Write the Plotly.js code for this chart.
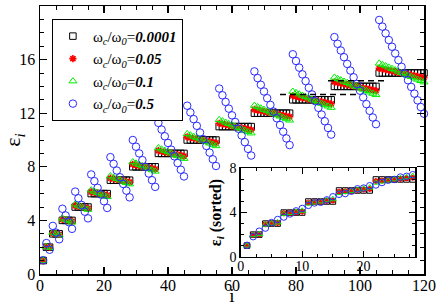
<!DOCTYPE html>
<html>
<head>
<meta charset="utf-8">
<script src="https://cdn.plot.ly/plotly-3.0.1.min.js"></script>
<style>html,body{margin:0;padding:0;background:#fff;}#plot{width:436px;height:306px;}</style>
</head>
<body>
<div id="plot"></div>
<script>
// state index i (1..121)
const stateIndex = Array.from({length: 121}, (_, k) => k + 1);

// omega_c/omega_0 = 0.0001
const eps0001 = [
  1,
  2, 2,
  3, 3, 3,
  4, 4, 4, 4,
  5, 5, 5, 5, 5,
  6, 6, 6, 6, 6, 6,
  7, 7, 7, 7, 7, 7, 7,
  8, 8, 8, 8, 8, 8, 8, 8,
  9, 9, 9, 9, 9, 9, 9, 9, 9,
  10, 10, 10, 10, 10, 10, 10, 10, 10, 10,
  11, 11, 11, 11, 11, 11, 11, 11, 11, 11, 11,
  12, 12, 12, 12, 12, 12, 12, 12, 12, 12, 12, 12,
  13, 13, 13, 13, 13, 13, 13, 13, 13, 13, 13, 13, 13,
  14, 14, 14, 14, 14, 14, 14, 14, 14, 14, 14, 14, 14, 14,
  15, 15, 15, 15, 15, 15, 15, 15, 15, 15, 15, 15, 15, 15, 15,
  16
];

// omega_c/omega_0 = 0.05
const eps005 = [
  1.00,
  2.03, 1.98,
  3.05, 3.00, 2.95,
  4.08, 4.03, 3.98, 3.93,
  5.10, 5.05, 5.00, 4.95, 4.90,
  6.13, 6.08, 6.03, 5.98, 5.93, 5.88,
  7.15, 7.10, 7.05, 7.00, 6.95, 6.90, 6.85,
  8.18, 8.13, 8.08, 8.03, 7.98, 7.93, 7.88, 7.83,
  9.20, 9.15, 9.10, 9.05, 9.00, 8.95, 8.90, 8.85, 8.80,
  10.23, 10.18, 10.13, 10.08, 10.03, 9.98, 9.93, 9.88, 9.83, 9.78,
  11.25, 11.20, 11.15, 11.10, 11.05, 11.00, 10.95, 10.90, 10.85, 10.80, 10.75,
  12.28, 12.23, 12.18, 12.13, 12.08, 12.03, 11.98, 11.93, 11.88, 11.83, 11.78, 11.73,
  13.30, 13.25, 13.20, 13.15, 13.10, 13.05, 13.00, 12.95, 12.90, 12.85, 12.80, 12.75, 12.70,
  14.33, 14.28, 14.23, 14.18, 14.13, 14.08, 14.03, 13.98, 13.93, 13.88, 13.83, 13.78, 13.73, 13.68,
  15.35, 15.30, 15.25, 15.20, 15.15, 15.10, 15.05, 15.00, 14.95, 14.90, 14.85, 14.80, 14.75, 14.70, 14.65,
  16.38
];

// omega_c/omega_0 = 0.1
const eps01 = [
  1.00,
  2.05, 1.95,
  3.10, 3.00, 2.90,
  4.16, 4.06, 3.96, 3.86,
  5.21, 5.11, 5.01, 4.91, 4.81,
  6.26, 6.16, 6.06, 5.96, 5.86, 5.76,
  7.31, 7.21, 7.11, 7.01, 6.91, 6.81, 6.71,
  8.36, 8.26, 8.16, 8.06, 7.96, 7.86, 7.76, 7.66,
  9.41, 9.31, 9.21, 9.11, 9.01, 8.91, 8.81, 8.71, 8.61,
  10.46, 10.36, 10.26, 10.16, 10.06, 9.96, 9.86, 9.76, 9.66, 9.56,
  11.51, 11.41, 11.31, 11.21, 11.11, 11.01, 10.91, 10.81, 10.71, 10.61, 10.51,
  12.57, 12.47, 12.37, 12.27, 12.17, 12.07, 11.97, 11.87, 11.77, 11.67, 11.57, 11.47,
  13.62, 13.52, 13.42, 13.32, 13.22, 13.12, 13.02, 12.92, 12.82, 12.72, 12.62, 12.52, 12.42,
  14.67, 14.57, 14.47, 14.37, 14.27, 14.17, 14.07, 13.97, 13.87, 13.77, 13.67, 13.57, 13.47, 13.37,
  15.72, 15.62, 15.52, 15.42, 15.32, 15.22, 15.12, 15.02, 14.92, 14.82, 14.72, 14.62, 14.52, 14.42, 14.32,
  16.77
];

// omega_c/omega_0 = 0.5
const eps05 = [
  1.03,
  2.31, 1.81,
  3.59, 3.09, 2.59,
  4.87, 4.37, 3.87, 3.37,
  6.15, 5.65, 5.15, 4.65, 4.15,
  7.43, 6.93, 6.43, 5.93, 5.43, 4.93,
  8.72, 8.22, 7.72, 7.22, 6.72, 6.22, 5.72,
  10.00, 9.50, 9.00, 8.50, 8.00, 7.50, 7.00, 6.50,
  11.28, 10.78, 10.28, 9.78, 9.28, 8.78, 8.28, 7.78, 7.28,
  12.56, 12.06, 11.56, 11.06, 10.56, 10.06, 9.56, 9.06, 8.56, 8.06,
  13.84, 13.34, 12.84, 12.34, 11.84, 11.34, 10.84, 10.34, 9.84, 9.34, 8.84,
  15.12, 14.62, 14.12, 13.62, 13.12, 12.62, 12.12, 11.62, 11.12, 10.62, 10.12, 9.62,
  16.40, 15.90, 15.40, 14.90, 14.40, 13.90, 13.40, 12.90, 12.40, 11.90, 11.40, 10.90, 10.40,
  17.68, 17.18, 16.68, 16.18, 15.68, 15.18, 14.68, 14.18, 13.68, 13.18, 12.68, 12.18, 11.68, 11.18,
  18.96, 18.46, 17.96, 17.46, 16.96, 16.46, 15.96, 15.46, 14.96, 14.46, 13.96, 13.46, 12.96, 12.46, 11.96,
  20.24
];

// dashed reference levels
const dashLowX = [75, 100];
const dashLowY = [13.40, 13.40];
const dashHighX = [90, 108];
const dashHighY = [14.43, 14.43];

// inset: sorted energies, first 28 states
const sortedIndex = Array.from({length: 28}, (_, k) => k + 1);
const sorted0001 = [1, 2, 2, 3, 3, 3, 4, 4, 4, 4, 5, 5, 5, 5, 5, 6, 6, 6, 6, 6, 6, 7, 7, 7, 7, 7, 7, 7];
const sorted005 = [1.00, 1.98, 2.03, 2.95, 3.00, 3.05, 3.93, 3.98, 4.03, 4.08, 4.90, 4.95, 5.00, 5.05, 5.10,
  5.88, 5.93, 5.98, 6.03, 6.08, 6.13, 6.85, 6.90, 6.95, 7.00, 7.05, 7.10, 7.15];
const sorted01 = [1.00, 1.95, 2.05, 2.90, 3.00, 3.10, 3.86, 3.96, 4.06, 4.16, 4.81, 4.91, 5.01, 5.11, 5.21,
  5.76, 5.86, 5.96, 6.06, 6.16, 6.26, 6.71, 6.81, 6.91, 7.01, 7.11, 7.21, 7.31];
const sorted05 = [1.03, 1.81, 2.31, 2.59, 3.09, 3.37, 3.59, 3.87, 4.15, 4.37, 4.65, 4.87, 4.93, 5.15, 5.43,
  5.65, 5.72, 5.93, 6.15, 6.22, 6.43, 6.50, 6.72, 6.93, 7.00, 7.22, 7.28, 7.43];

const seriesNames = [
  'ω<sub><i>c</i></sub>/ω<sub><i>0</i></sub>=<b><i>0.0001</i></b>',
  'ω<sub><i>c</i></sub>/ω<sub><i>0</i></sub>=<b><i>0.05</i></b>',
  'ω<sub><i>c</i></sub>/ω<sub><i>0</i></sub>=<b><i>0.1</i></b>',
  'ω<sub><i>c</i></sub>/ω<sub><i>0</i></sub>=<b><i>0.5</i></b>'
];

const FONT = 'Liberation Serif, Times New Roman, DejaVu Serif, serif';
const styles = [
  {symbol: 'square-open', color: '#000000', size: 6.5, lw: 1},
  {symbol: 'asterisk-open', color: '#ff0000', size: 6, lw: 1.6},
  {symbol: 'triangle-up-open', color: '#00ee00', size: 7, lw: 1},
  {symbol: 'circle-open', color: '#2b2bff', size: 7.5, lw: 1}
];

const mainY = [eps0001, eps005, eps01, eps05];
const insetY = [sorted0001, sorted005, sorted01, sorted05];

const traces = [];
mainY.forEach((ys, s) => {
  traces.push({
    x: stateIndex, y: ys, type: 'scatter', mode: 'markers', name: seriesNames[s],
    cliponaxis: false,
    marker: {symbol: styles[s].symbol, size: styles[s].size, color: styles[s].color,
             line: {color: styles[s].color, width: styles[s].lw}},
    xaxis: 'x', yaxis: 'y'
  });
});
traces.push({x: dashLowX, y: dashLowY, type: 'scatter', mode: 'lines', showlegend: false,
  line: {color: '#000', width: 1.5, dash: '6px,4px'}, xaxis: 'x', yaxis: 'y'});
traces.push({x: dashHighX, y: dashHighY, type: 'scatter', mode: 'lines', showlegend: false,
  line: {color: '#000', width: 1.5, dash: '6px,4px'}, xaxis: 'x', yaxis: 'y'});
insetY.forEach((ys, s) => {
  traces.push({
    x: sortedIndex, y: ys, type: 'scatter', mode: 'markers', showlegend: false,
    cliponaxis: false,
    marker: {symbol: styles[s].symbol, size: styles[s].size - 1, color: styles[s].color,
             line: {color: styles[s].color, width: styles[s].lw}},
    xaxis: 'x2', yaxis: 'y2'
  });
});

const axBase = {
  showline: true, linecolor: '#000', linewidth: 1.5, mirror: 'allticks',
  ticks: 'inside', tickcolor: '#000', tickwidth: 1.2,
  showgrid: false, zeroline: false
};

const layout = {
  width: 436, height: 306,
  margin: {l: 40, r: 12, t: 6, b: 32},
  paper_bgcolor: '#fff', plot_bgcolor: '#fff',
  font: {family: FONT, color: '#000'},
  showlegend: true,
  legend: {
    x: 0.031, y: 0.952, xanchor: 'left', yanchor: 'top',
    bgcolor: '#fff', bordercolor: '#000', borderwidth: 1,
    font: {family: FONT, size: 15, color: '#000'},
    itemwidth: 30, tracegroupgap: 0
  },
  xaxis: Object.assign({}, axBase, {
    range: [0, 120], dtick: 20, tick0: 0, ticklen: 7,
    minor: {dtick: 5, ticklen: 4, ticks: 'inside', tickcolor: '#000', tickwidth: 1},
    tickfont: {family: FONT, size: 16, color: '#000'},
    ticklabelstandoff: -4,
    title: {text: 'i', font: {family: FONT, size: 19, color: '#000'}, standoff: 6},
    domain: [0, 1]
  }),
  yaxis: Object.assign({}, axBase, {
    range: [0, 20], dtick: 4, tick0: 0, ticklen: 7,
    minor: {dtick: 1, ticklen: 4, ticks: 'inside', tickcolor: '#000', tickwidth: 1},
    tickfont: {family: FONT, size: 16, color: '#000'},
    title: {text: 'ε<sub><i>i</i></sub>', font: {family: FONT, size: 22, color: '#000'}, standoff: 2},
    domain: [0, 1]
  }),
  xaxis2: Object.assign({}, axBase, {
    anchor: 'y2', domain: [0.523, 0.977], range: [0, 28.4], dtick: 10, tick0: 0, ticklen: 6,
    minor: {dtick: 2.5, ticklen: 3, ticks: 'inside', tickcolor: '#000', tickwidth: 1},
    tickfont: {family: FONT, size: 14, color: '#000'},
    ticklabelstandoff: -4
  }),
  yaxis2: Object.assign({}, axBase, {
    anchor: 'x2', domain: [0.0646, 0.394], range: [0, 8], dtick: 4, tick0: 0, ticklen: 6,
    minor: {dtick: 1, ticklen: 3, ticks: 'inside', tickcolor: '#000', tickwidth: 1},
    tickfont: {family: FONT, size: 14, color: '#000'},
    title: {text: '<b>ε<sub><i>i</i></sub> (sorted)</b>', font: {family: FONT, size: 16, color: '#000'}, standoff: 4}
  })
};

Plotly.newPlot('plot', traces, layout, {staticPlot: true, displayModeBar: false});
</script>
</body>
</html>
